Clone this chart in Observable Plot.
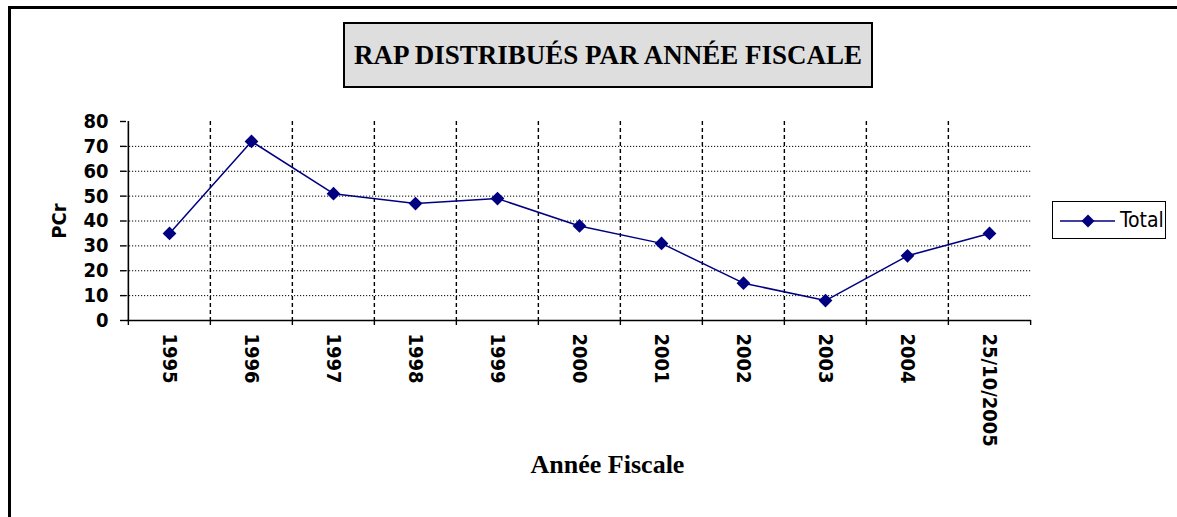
<!DOCTYPE html>
<html>
<head>
<meta charset="utf-8">
<script src="https://cdn.jsdelivr.net/npm/d3@7"></script>
<script src="https://cdn.jsdelivr.net/npm/@observablehq/plot@0.6"></script>
<style>
  html, body { margin: 0; padding: 0; background: #fff; }
  #wrap { position: relative; width: 1177px; height: 517px; overflow: hidden; }
  #frame { position: absolute; left: 8px; top: 6px; width: 1300px; height: 700px;
           border-left: 3px solid #000; border-top: 3px solid #000; }
  #chart { position: absolute; left: 0; top: 0; }
  #title { position: absolute; left: 343px; top: 22px; width: 526px; height: 62px;
           background: #dedede; border: 2px solid #000;
           display: flex; align-items: center; justify-content: center;
           font-family: "Liberation Serif", "Times New Roman", serif; font-weight: bold;
           font-size: 27px; color: #000; white-space: nowrap; }
  #legend { position: absolute; left: 1052px; top: 201px; width: 112px; height: 36px;
            border: 1.5px solid #000; background: #fff; }
  #legend svg { position: absolute; left: 0; top: 0; }
  #legend span { position: absolute; left: 67px; top: 6px;
                 font-family: "DejaVu Sans Condensed", "Liberation Sans Narrow", "Arial Narrow", sans-serif;
                 font-stretch: condensed; font-size: 21px; color: #000; line-height: 24px; }
</style>
</head>
<body>
<div id="wrap">
  <div id="frame"></div>
  <div id="chart"></div>
  <div id="title">RAP DISTRIBUÉS PAR ANNÉE FISCALE</div>
  <div id="legend">
    <svg width="66" height="36">
      <line x1="7" x2="62" y1="19" y2="19" stroke="#000080" stroke-width="1.5"></line>
      <path d="M35,12.5 L41.5,19 L35,25.5 L28.5,19 Z" fill="#000080"></path>
    </svg>
    <span>Total</span>
  </div>
</div>
<script>
// ---- data ----
const categories = ["1995", "1996", "1997", "1998", "1999", "2000", "2001", "2002", "2003", "2004", "25/10/2005"];
const totals = [35, 72, 51, 47, 49, 38, 31, 15, 8, 26, 35];
const yTicks = [0, 10, 20, 30, 40, 50, 60, 70, 80];
const gridValues = [10, 20, 30, 40, 50, 60, 70];
const seriesName = "Total";
const yLabel = "PCr";
const xLabel = "Année Fiscale";

const data = categories.map((c, i) => ({annee: c, total: totals[i], serie: seriesName}));

const W = 1177, H = 517;
const mL = 126, mR = 146, mT = 121, mB = 197;
const step = (W - mL - mR) / categories.length;
const axisFont = '"DejaVu Sans Condensed", "Liberation Sans Narrow", "Arial Narrow", sans-serif';
const navy = "#000080";

const chart = Plot.plot({
  width: W,
  height: H,
  marginLeft: mL,
  marginRight: mR,
  marginTop: mT,
  marginBottom: mB,
  x: {type: "point", domain: categories, padding: 0.5, label: null},
  y: {domain: [0, 80], label: null},
  style: {
    fontFamily: axisFont,
    fontSize: "20px",
    fontWeight: "bold",
    fontStretch: "condensed",
    color: "#000",
    background: "transparent",
    overflow: "visible"
  },
  marks: [
    Plot.ruleY(gridValues, {stroke: "#000", strokeWidth: 1, strokeDasharray: "1.2,1.8"}),
    Plot.ruleX(categories.slice(1), {dx: -step / 2, stroke: "#000", strokeWidth: 1.4, strokeDasharray: "4,3"}),
    Plot.axisX(categories, {tickSize: 5, tickFormat: () => "", dx: -step / 2, strokeWidth: 1.4, label: null}),
    Plot.axisX([categories[categories.length - 1]], {tickSize: 5, tickFormat: () => "", dx: step / 2, strokeWidth: 1.4, label: null}),
    Plot.axisX({tickSize: 0, tickPadding: 13, tickRotate: 90, label: null}),
    Plot.axisY(yTicks, {tickSize: 6, tickPadding: 12, label: null, strokeWidth: 1.4}),
    Plot.ruleX([categories[0]], {dx: -step / 2, stroke: "#000", strokeWidth: 1.6}),
    Plot.ruleY([0], {stroke: "#000", strokeWidth: 1.6}),
    Plot.line(data, {x: "annee", y: "total", stroke: navy, strokeWidth: 1.5}),
    Plot.dot(data, {x: "annee", y: "total", symbol: "diamond2", r: 6.2, fill: navy, stroke: "none"}),
    Plot.text([yLabel], {text: d => d, frameAnchor: "left", textAnchor: "middle", dx: -67, rotate: -90, fontSize: 20}),
    Plot.text([xLabel], {text: d => d, frameAnchor: "bottom", dy: 152, dx: 28.5,
      fontFamily: '"Liberation Serif", "Times New Roman", serif', fontSize: 26, fontWeight: "bold"})
  ]
});
document.getElementById("chart").appendChild(chart);
</script>
</body>
</html>
